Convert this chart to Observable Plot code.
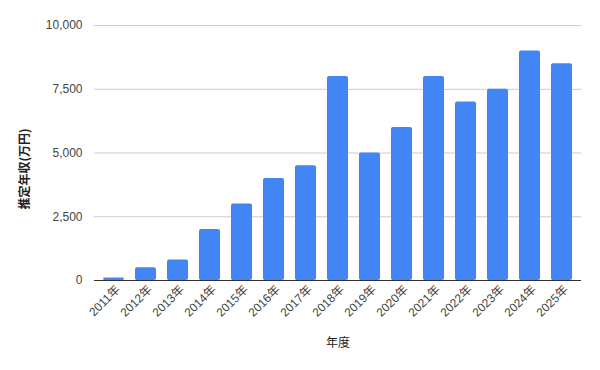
<!DOCTYPE html>
<html><head><meta charset="utf-8">
<script src="https://cdn.jsdelivr.net/npm/d3@7"></script>
<script src="https://cdn.jsdelivr.net/npm/@observablehq/plot@0.6"></script>
<style>body{margin:0;background:#fff;font-family:"Liberation Sans",Arial,sans-serif}</style>
</head><body><div id="chart"></div>
<script>
const years = ["2011年","2012年","2013年","2014年","2015年","2016年","2017年","2018年","2019年","2020年","2021年","2022年","2023年","2024年","2025年"];
const income = [100,500,800,2000,3000,4000,4500,8000,5000,6000,8000,7000,7500,9000,8500];
const yTicks = [0,2500,5000,7500,10000];
const xTitle = "年度";
const yTitle = "推定年収(万円)";
const data = years.map((y,i)=>({year:y, value:income[i]}));
const fmt = d3.format(",");
const cjk = '"Noto Sans CJK JP", "Liberation Sans", sans-serif';
const chart = Plot.plot({
  width: 600, height: 370,
  marginLeft: 94, marginRight: 19, marginTop: 25, marginBottom: 90,
  style: {fontFamily: '"Liberation Sans", "Noto Sans CJK JP", Arial, sans-serif', fontSize: "12px", color: "#444"},
  x: {domain: years, padding: 0.34, paddingOuter: 0.18},
  y: {domain: [0,10000]},
  marks: [
    Plot.gridY(yTicks, {stroke: "#ccc", strokeOpacity: 1}),
    Plot.barY(data, {x: "year", y: "value", fill: "#4285F4", rx: 2}),
    Plot.ruleY([0], {stroke: "#333", strokeWidth: 1}),
    Plot.axisY(yTicks, {tickSize: 0, tickPadding: 12, tickFormat: fmt, label: null, fill: "#444", fontSize: 12}),
    Plot.axisX({tickSize: 0, tickRotate: -45, tickPadding: 6, dx: 4, dy: 1, label: null, fill: "#444", fontSize: 12}),
    Plot.text([yTitle], {frameAnchor: "left", textAnchor: "middle", lineAnchor: "middle", rotate: -90, dx: -69, dy: 16, fill: "#222", fontSize: 12, fontWeight: "bold", fontFamily: cjk}),
    Plot.text([xTitle], {frameAnchor: "bottom", textAnchor: "middle", lineAnchor: "middle", dy: 63, fill: "#222", fontSize: 12, fontFamily: cjk})
  ]
});
document.getElementById("chart").appendChild(chart);
</script></body></html>
